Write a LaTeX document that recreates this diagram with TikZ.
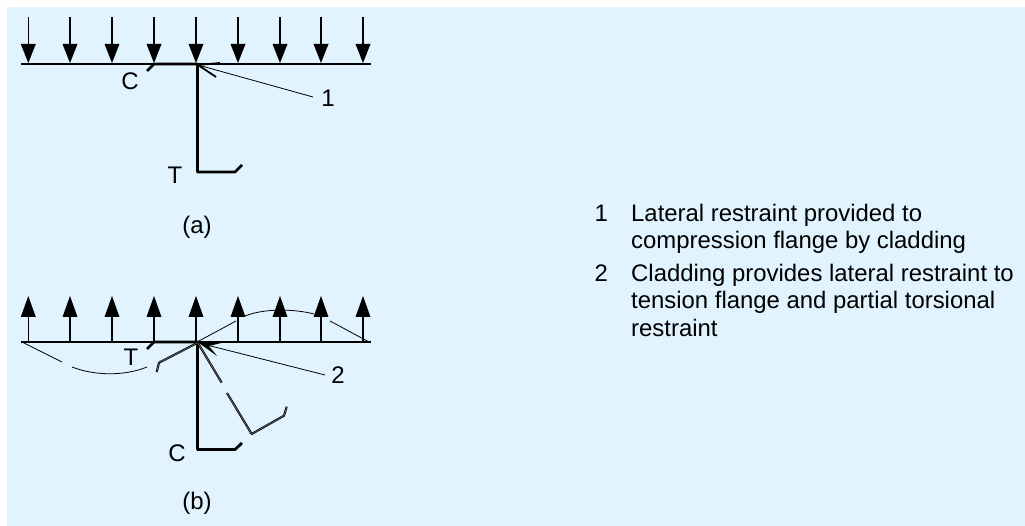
\documentclass[tikz,border=0pt]{standalone}
\usepackage{fontspec}
\setmainfont{Liberation Sans}
\definecolor{panel}{HTML}{E1F3FE}
\tikzset{x=1pt,y=-1pt,
 lbl/.style={inner sep=0pt,font=\fontsize{24}{28}\selectfont},
 txt/.style={inner sep=0pt,anchor=base west,font=\fontsize{23.9}{28}\selectfont},
 beam/.style={line width=1.5pt,black},
 sect/.style={line width=2.8pt,black,line join=round},
 thin/.style={line width=0.8pt,black},
 defl/.style={line width=0.8pt,black,line join=round,double=gray,double distance=0.5pt},
 shaft/.style={line width=1.3pt,black},
 head/.style={fill=black,draw=none},
 barb/.style={line width=1.8pt,black}}
\newcommand{\arrd}[2]{\draw[shaft] (#1,#2-47)--(#1,#2-15); \fill[head] (#1,#2-1)--(#1-7.5,#2-20)--(#1+7.5,#2-20)--cycle;}
\newcommand{\arru}[2]{\draw[shaft] (#1,#2)--(#1,#2-28); \fill[head] (#1,#2-46)--(#1-7.5,#2-25)--(#1+7.5,#2-25)--cycle;}
\begin{document}
\begin{tikzpicture}
\useasboundingbox (0,0) rectangle (1025,526);
\fill[panel] (7,7) rectangle (1025,526);
% (a)
\coordinate (a1) at (21,64); \coordinate (a2) at (371,64);
\draw[beam] (a1)--(a2);
\foreach \x in {28.3,70,112,154,196,238,280,321,363}{\arrd{\x}{64}}
\draw[sect] (147,71)--(154,64)--(197.5,64)--(197.5,172)--(235,172)--(242,165);
\node[lbl] (ca) at (130,81) {C};
\node[lbl] (ta) at (175,175) {T};
\node[lbl] (na) at (328,98) {1};
\node[lbl] (cap1) at (197,227) {(a)};
\coordinate (la) at (313,97); \coordinate (ta1) at (198,65);
\draw[thin] (la)--(ta1);
\coordinate (ba1) at (220,63); \coordinate (ba2) at (216,77);
\draw[barb] (ba1)--(ta1)--(ba2);
% (b)
\coordinate (b1) at (21,342); \coordinate (b2) at (371,342);
\draw[beam] (b1)--(b2);
\foreach \x in {28.3,70,112,154,196,238,280,321,363}{\arru{\x}{342}}
\draw[sect] (147,349)--(154,342)--(197.5,342)--(197.5,449.5)--(235,449.5)--(242,443);
\node[lbl] (tb) at (131,357) {T};
\node[lbl] (cb) at (177,453) {C};
\node[lbl] (nb) at (338,375) {2};
\node[lbl] (cap2) at (197,503) {(b)};
\coordinate (lb) at (325,375); \coordinate (tb1) at (199,343);
\draw[thin] (lb)--(tb1);
\coordinate (bb1) at (221,343); \coordinate (bb2) at (217,356);
\fill[black] (bb1)--(tb1)--(bb2)--(209,346)--cycle;
% deflected shape
\draw[defl] (197.7,342.7)--(159,362.7)--(156.7,372);
\draw[defl] (197.7,342.7)--(221.7,382.7);
\draw[defl] (227,393)--(251.7,434)--(284,415.7)--(286.7,406.7);
\draw[thin] (22,342)--(62,362);
\draw[thin] (72,367) .. controls (95,376) and (125,376) .. (147,367);
\draw[thin] (197,342)--(236,321);
\draw[thin] (245,316) .. controls (265,308) and (295,309) .. (314,314);
\draw[thin] (330,321)--(369,342);
% text
\node[txt] (n1) at (594.5,222) {1};
\node[txt] (t1a) at (631,222) {Lateral restraint provided to};
\node[txt] (t1b) at (631,249) {compression flange by cladding};
\node[txt] (n2) at (594.5,282) {2};
\node[txt] (t2a) at (631,282) {Cladding provides lateral restraint to};
\node[txt] (t2b) at (631,309) {tension flange and partial torsional};
\node[txt] (t2c) at (631,337) {restraint};
\end{tikzpicture}
\end{document}
